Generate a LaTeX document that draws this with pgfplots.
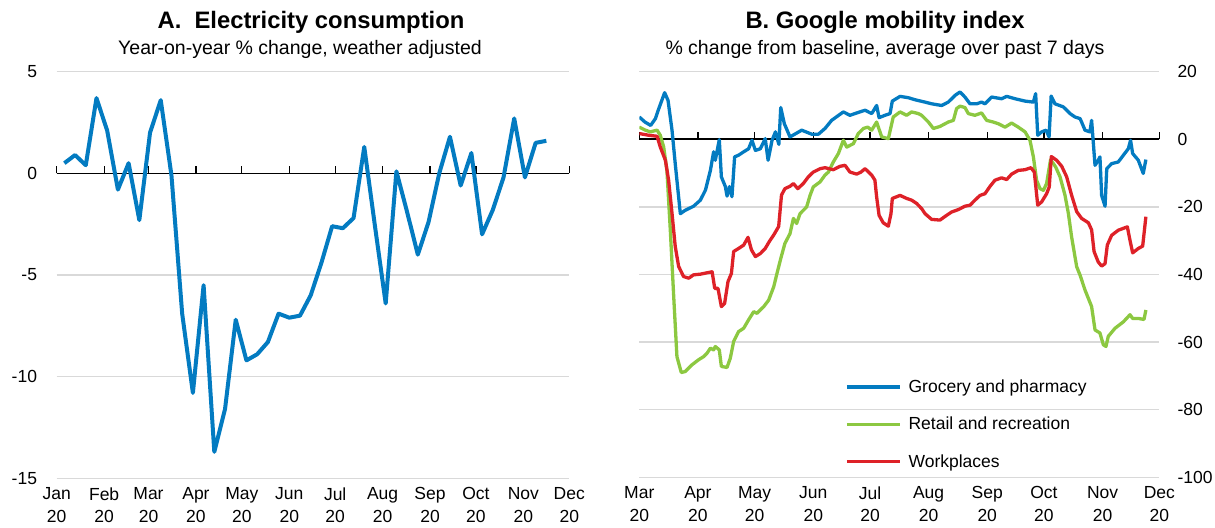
\documentclass[border=0pt]{standalone}
\usepackage{pgfplots}
\pgfplotsset{compat=1.18}
\usepackage{fontspec}
\setmainfont{Liberation Sans}
\definecolor{oblue}{RGB}{3,123,193}
\definecolor{ogreen}{RGB}{140,200,65}
\definecolor{ored}{RGB}{222,33,40}
\definecolor{ogrid}{RGB}{217,217,217}
\newcommand\tf{\fontsize{17.5bp}{22.7bp}\selectfont}
\newcommand\tfT{\fontsize{19.5bp}{23bp}\selectfont}
\newcommand\tfB{\fontsize{23.8bp}{28bp}\selectfont}
\begin{document}
\begin{tikzpicture}
\useasboundingbox (0,0) rectangle (1215bp,528bp);
% ---------- Panel A : zero line with ticks ----------
\begin{axis}[at={(56.7bp,49.7bp)}, anchor=south west, scale only axis,
  width=512.6bp, height=406.6bp, xmin=0, xmax=335, ymin=-15, ymax=5,
  axis x line=middle, axis y line=none, axis line style={-, black, line width=1.6bp},
  xtick={0,31,60,91,121,152,182,213,244,274,305,335},
  xticklabel style={opacity=0}, ytick=\empty,
  tick align=center, major tick length=7bp,
  xtick style={black, line width=1.2bp, yshift=3.5bp}]
\end{axis}
% ---------- Panel A : data ----------
\begin{axis}[at={(56.7bp,49.7bp)}, anchor=south west, scale only axis,
  width=512.6bp, height=406.6bp, xmin=0, xmax=335, ymin=-15, ymax=5,
  axis line style={draw=none}, tick style={draw=none}, major tick length=0pt,
  xtick={0,31,60,91,121,152,182,213,244,274,305,335},
  xticklabels={Jan\\20,Feb\\20,Mar\\20,Apr\\20,May\\20,Jun\\20,Jul\\20,Aug\\20,Sep\\20,Oct\\20,Nov\\20,Dec\\20},
  xticklabel style={font=\tf, align=center, anchor=north, inner sep=0pt, yshift=-9bp},
  ytick={-15,-10,-5,5}, yticklabels={-15,-10,-5,5},
  extra y ticks={0}, extra y tick labels={0}, extra y tick style={grid=none},
  yticklabel style={font=\tf, anchor=east, inner sep=0pt, xshift=-19.5bp},
  ymajorgrids, grid style={ogrid, line width=1.4bp}]
\addplot[oblue, line width=4bp, line join=round, no marks] coordinates {
(5,0.5) (12,0.9) (19,0.4) (26,3.7) (33,2.1) (40,-0.8) (47,0.5) (54,-2.3)
(61,2.0) (68,3.6) (75,-0.1) (82,-6.9) (89,-10.8) (96,-5.5) (103,-13.7)
(110,-11.6) (117,-7.2) (124,-9.2) (131,-8.9) (138,-8.3) (145,-6.9)
(152,-7.1) (159,-7.0) (166,-6.0) (173,-4.4) (180,-2.6) (187,-2.7)
(194,-2.2) (201,1.3) (208,-2.6) (215,-6.4) (222,0.1) (229,-1.9)
(236,-4.0) (243,-2.4) (250,0.0) (257,1.8) (264,-0.6) (271,1.0)
(278,-3.0) (285,-1.8) (292,-0.2) (299,2.7) (306,-0.2) (313,1.5) (320,1.6)
};
\end{axis}
% ---------- Panel B : zero line with ticks ----------
\begin{axis}[at={(639.3bp,50.7bp)}, anchor=south west, scale only axis,
  width=520bp, height=405.6bp, xmin=60, xmax=335, ymin=-100, ymax=20,
  axis x line=middle, axis y line=none, axis line style={-, black, line width=1.6bp},
  xtick={60,91,121,152,182,213,244,274,305,335},
  xticklabel style={opacity=0}, ytick=\empty,
  tick align=center, major tick length=7bp,
  xtick style={black, line width=1.2bp, yshift=3.5bp}]
\end{axis}
% ---------- Panel B : data ----------
\begin{axis}[at={(639.3bp,50.7bp)}, anchor=south west, scale only axis,
  width=520bp, height=405.6bp, xmin=60, xmax=335, ymin=-100, ymax=20,
  axis line style={draw=none}, tick style={draw=none}, major tick length=0pt,
  xtick={60,91,121,152,182,213,244,274,305,335},
  xticklabels={Mar\\20,Apr\\20,May\\20,Jun\\20,Jul\\20,Aug\\20,Sep\\20,Oct\\20,Nov\\20,Dec\\20},
  xticklabel style={font=\tf, align=center, anchor=north, inner sep=0pt, yshift=-9bp},
  ytick={-100,-80,-60,-40,-20,20}, yticklabels={-100,-80,-60,-40,-20,20},
  extra y ticks={0}, extra y tick labels={0}, extra y tick style={grid=none},
  yticklabel pos=right,
  yticklabel style={font=\tf, anchor=west, inner sep=0pt, xshift=18bp},
  ymajorgrids, grid style={ogrid, line width=1.4bp},
  legend cell align=left,
  legend style={at={(0.3954,0.2449)}, anchor=north west, draw=none, fill=none,
    inner sep=0pt, font=\tf, row sep=19bp,
    /tikz/every odd column/.append style={column sep=5bp}},
  legend image code/.code={\draw[#1, line width=3.5bp] (0bp,0bp) -- (53bp,0bp);}]
\addplot[oblue, line width=3.3bp, line join=round, no marks] coordinates {
(60,6.6) (63,5.1) (66,4.1) (68.5,6.1) (70,8.6) (73.4,13.8) (75.2,11.5) (77.3,2.7)
(79,-7.2) (81.7,-22) (84.3,-21) (88.7,-19.8) (92.3,-18) (95,-15) (97.6,-9.2)
(99.3,-3.7) (100.2,-6.2) (102.3,-0.1) (103.4,-11.1) (105.5,-14) (106.4,-16.8)
(107.7,-14) (109,-17) (110.4,-5.2) (112.5,-4.7) (115.2,-3.7) (117.8,-2.8)
(119.6,-0.3) (121.4,-3.3) (124,-2.8) (126.6,0.2) (128.1,-6.2) (130.2,-0.3)
(132,2.2) (133.8,-1.5) (134.8,9.4) (136.7,4.6) (139.7,0.7) (145.9,2.7)
(151.2,1.5) (154.7,1.5) (158.2,3.2) (161.7,5.6) (167.9,8.1) (171.4,7.1)
(175,7.8) (179.4,8.6) (182.9,7.6) (185.5,10) (186.8,6.4) (189.9,7.1)
(192.6,7.6) (193.8,11.3) (197.9,12.7) (202.3,12.3) (205.8,11.7) (211.1,11)
(214.6,10.5) (219.9,10) (223.4,11) (227,13) (229.6,14) (232.2,12.5)
(234.9,10.5) (238.4,10.5) (241,11) (242.8,10.5) (246.3,12.5) (251.6,12)
(254.3,12.7) (258.7,12) (264,11.3) (268.4,11) (269.6,13.5) (270.7,1.2)
(272.8,2.2) (275.1,2.7) (276.7,0.7) (277.8,12.8) (279.8,10.5) (284.2,9.6)
(287.8,7.6) (290.4,6.6) (293.1,6.1) (293.9,5.1) (295.7,2.7) (298.3,2.2)
(299.2,5.6) (301,-7.7) (302.7,-6.2) (303.6,-5.2) (304.5,-16.6) (306.3,-19.8)
(307.2,-8.7) (309.8,-7.2) (313.3,-6.7) (316,-4.7) (318.6,-2.8) (319.8,-0.3)
(320.9,-4.2) (323.9,-6.2) (326.5,-10.1) (327.9,-6)
};
\addlegendentry{Grocery and pharmacy}
\addplot[ogreen, line width=3.3bp, line join=round, no marks] coordinates {
(60,3.6) (63.2,2.7) (65.8,2.2) (69.4,2.7) (71.1,1.2) (72.9,-2.3) (74.6,-9.2)
(76.4,-26.9) (78.2,-46.6) (79.9,-64.3) (82.2,-69) (84.3,-68.7) (87.9,-66.7)
(91.4,-65.2) (94,-64.3) (95.8,-63.3) (97.6,-61.8) (99.3,-62.3) (100.2,-61.3)
(102.3,-62.3) (103.4,-67.2) (106.4,-67.5) (108.1,-64.8) (109.9,-59.8)
(112.5,-56.9) (115.2,-55.9) (117.8,-53.4) (120.5,-51) (122.2,-51.5)
(125.8,-49.5) (128.4,-47.6) (131.1,-43.6) (132.8,-39.7) (134.8,-35.3)
(137,-30.8) (139.7,-27.9) (141.5,-23.4) (143.2,-24.9) (145,-22) (148.5,-20)
(150.3,-16.6) (152,-14.1) (155.6,-12.6) (158.2,-10.6) (160,-9.7) (162.6,-6.7)
(165.3,-4.2) (167.9,-0.3) (169.7,-2.3) (173.2,-1.3) (175.8,1.7) (178.5,3.2)
(180.8,3.6) (182.9,2.7) (185.5,5.1) (188.2,0.7) (191.7,0.2) (194.3,6.6)
(197.9,8.1) (201.4,7.1) (204,8.1) (207.6,7.6) (209.3,7.1) (212.9,5.1)
(215.5,3.2) (219,3.8) (223.4,5.1) (226.1,5.6) (227.8,9.1) (229.6,9.8)
(232.2,9.4) (234,7.6) (237.5,7.1) (241,7.8) (243.7,5.6) (247.2,5.1)
(249.9,4.6) (253.4,3.6) (256.9,4.8) (260.4,3.6) (264,2.2) (266.6,-0.3)
(268.4,-5.2) (270.1,-12.1) (271.9,-14.6) (273.7,-15.1) (275.4,-13.1)
(277.5,-6) (280.2,-8.2) (282.5,-11.1) (285.1,-16.5) (286.9,-21.9)
(288.6,-28.8) (291.3,-37.7) (293.1,-40.2) (295.7,-44.6) (299.2,-49.5)
(301,-56.4) (303.6,-57.3) (305.4,-60.8) (306.8,-61.3) (308,-58.3)
(311.6,-55.9) (316,-54) (319.5,-51.9) (320.9,-53) (323.9,-53) (326.9,-53.3)
(327.9,-50.5)
};
\addlegendentry{Retail and recreation}
\addplot[ored, line width=3.3bp, line join=round, no marks] coordinates {
(60,1.7) (64.9,1.2) (69.4,0.9) (71.1,-2.3) (73.8,-6.2) (75.5,-12.1)
(77.3,-21.9) (79,-31.7) (80.8,-37.6) (83.4,-40.6) (86.1,-41.1) (88.7,-40.1)
(92.3,-39.9) (95.8,-39.5) (98.5,-39.2) (99.9,-44.1) (101.6,-44.1)
(103.4,-49.5) (105.1,-48.6) (106.9,-42.1) (108.7,-39.7) (109.9,-33.2)
(112.5,-32.3) (115.2,-31.3) (117.5,-29) (119.3,-32.7) (121.4,-34.7)
(124,-33.8) (126.6,-32.3) (128.8,-30.2) (131.1,-28.3) (133.7,-25.8)
(135.2,-16.5) (137,-14.6) (139.7,-13.9) (141.5,-13.1) (143.8,-14.6)
(146.7,-13.1) (149.4,-11.1) (152,-9.7) (155.6,-8.7) (158.2,-8.4) (162.6,-9)
(166.1,-8) (168.8,-7.7) (171.4,-9.7) (175,-10.3) (177.2,-9.7) (179.4,-8.7)
(182.9,-10.6) (184.6,-12.1) (185.5,-17) (186.8,-22.5) (189,-24.7)
(191.7,-25.7) (193.1,-22) (193.8,-17.5) (197.9,-16.6) (201.4,-17.5)
(204,-18) (206.7,-19) (209.3,-20.5) (211.1,-22) (214.6,-23.7) (219,-23.9)
(222.5,-22.5) (225.2,-21.5) (228.7,-20.8) (232.2,-19.8) (234.9,-19.5)
(237.5,-18) (240.2,-16.6) (242.8,-16.1) (245.5,-13.9) (248.1,-12.1)
(251.6,-11.4) (254.3,-11.9) (256.9,-10.3) (260.4,-9.2) (264,-9) (267.1,-8.4)
(268.9,-9.7) (270.7,-19.5) (272.8,-18.5) (275.4,-16.1) (276.8,-14.1)
(277.9,-5.1) (280.7,-6.2) (283.4,-8) (286,-11.1) (288.6,-16.5) (291.3,-21.4)
(293.9,-23.4) (297.5,-24.7) (299.2,-26.8) (300.5,-33.2) (302.7,-36.3)
(304.5,-37.5) (306.3,-36.8) (307.5,-31.3) (309.8,-28.4) (313.3,-26.9)
(318.1,-25.9) (319.5,-29.9) (320.9,-33.6) (323.9,-32.3) (326.2,-31.6)
(327.9,-22.9)
};
\addlegendentry{Workplaces}
\end{axis}
% ---------- titles ----------
\node[anchor=base, font=\tfB\bfseries, inner sep=0pt] at (311bp,499bp) {A.\ \ Electricity consumption};
\node[anchor=base, font=\tfT, inner sep=0pt] at (300bp,473bp) {Year-on-year \% change, weather adjusted};
\node[anchor=base, font=\tfB\bfseries, inner sep=0pt] at (885bp,499bp) {B. Google mobility index};
\node[anchor=base, font=\tfT, inner sep=0pt] at (885bp,473bp) {\% change from baseline, average over past 7 days};
\end{tikzpicture}
\end{document}
